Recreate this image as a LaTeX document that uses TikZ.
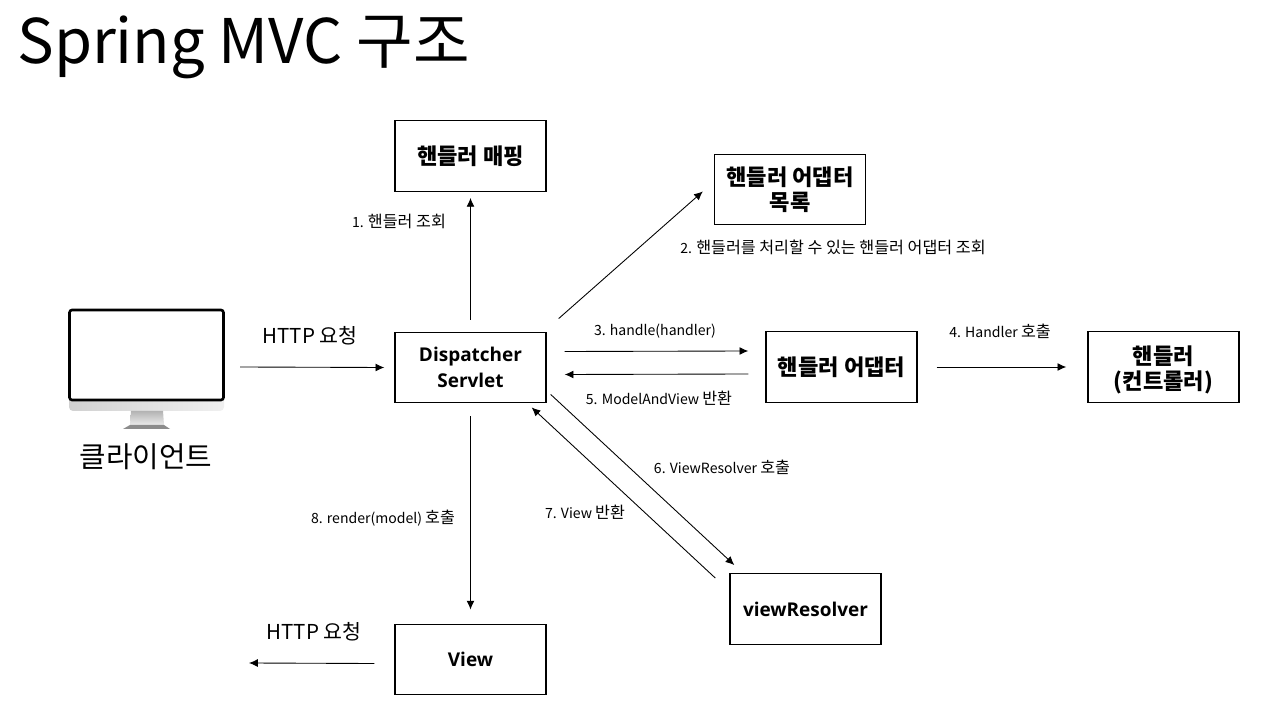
\documentclass[tikz,border=0pt]{standalone}
\usepackage{fontspec}
\setmainfont{Noto Sans CJK KR}
\newfontfamily\latbold{Open Sans}
\newcommand{\kr}[1]{{\fontsize{9.2}{10}\selectfont #1}}
\newcommand{\lb}[1]{{\latbold\bfseries\fontsize{10.8}{14.5}\selectfont #1}}
\usetikzlibrary{arrows.meta}
\tikzset{
 box/.style={draw,line width=0.8pt,minimum width=3.02cm,minimum height=1.41cm,inner sep=0pt,align=center,font=\fontsize{12.6}{14.5}\selectfont\bfseries},
 flow/.style={-{Latex[length=5pt,width=4.5pt]},line width=0.5pt},
 note/.style={inner sep=0pt,font=\fontsize{8}{10}\selectfont},
 biglabel/.style={inner sep=0pt,font=\fontsize{11.7}{13}\selectfont}
}
\begin{document}
\begin{tikzpicture}[x=0.02cm,y=-0.02cm]
 \useasboundingbox (0,0) rectangle (1280,715);
 \node[anchor=west,inner sep=0pt,font=\fontsize{35}{40}\selectfont] (title) at (17,47) {Spring MVC 구조};
 % monitor
 \shade[left color=black!18,right color=black!6] (69,396)--(224,396)--(224,407) arc (0:90:4)--(73,411) arc (90:180:4)--cycle;
 \shade[top color=black!30,bottom color=black!8] (131,411)--(163,411)--(164,425)--(130,425)--cycle;
 \fill[black!45] (130,425)--(164,425)--(170,429)--(123,429)--cycle;
 \draw[line width=1.5pt,rounded corners=1.5pt,fill=white] (69.5,310)--(223.5,310)--(223.5,400)--(69.5,400)--cycle;
 \node[inner sep=0pt,font=\fontsize{16.4}{18}\selectfont] (client) at (146,457) {클라이언트};
 \coordinate (screen) at (240,367);
 % boxes
 \node[box] (mapping) at (470.5,156) {핸들러 매핑};
 \node[box] (list) at (790,189.5) {핸들러 어댑터\\목록};
 \node[box] (ds) at (470.5,367.5) {\lb{Dispatcher}\\\lb{Servlet}};
 \node[box] (adapter) at (841.5,367) {핸들러 어댑터};
 \node[box] (handler) at (1163.5,367) {\rule{0pt}{14pt}핸들러\\(컨트롤러)};
 \node[box] (resolver) at (805.5,609) {\lb{viewResolver}};
 \node[box] (view) at (470.5,659.5) {\lb{View}};
 \coordinate (out) at (249,663);
 % arrows
 \draw[flow] (screen) -- ([shift={(-10,0)}]ds.west);
 \draw[flow] ([shift={(0,-12)}]ds.north) -- ([shift={(0,6)}]mapping.south);
 \draw[flow] ([shift={(12,-13)}]ds.north east) -- ([shift={(-11,-34)}]list.south west);
 \draw[flow] ([shift={(18,-16)}]ds.east) -- ([shift={(-17,-16)}]adapter.west);
 \draw[flow] ([shift={(-17,7)}]adapter.west) -- ([shift={(18,7)}]ds.east);
 \draw[flow] ([shift={(19,0)}]adapter.east) -- ([shift={(-21,0)}]handler.west);
 \draw[flow] ([shift={(4,-9)}]ds.south east) -- ([shift={(5,-8)}]resolver.north west);
 \draw[flow] ([shift={(-14,5)}]resolver.north west) -- ([shift={(-15,4)}]ds.south east);
 \draw[flow] ([shift={(0,13)}]ds.south) -- ([shift={(0,-14)}]view.north);
 \draw[flow] ([shift={(-20,4)}]view.west) -- (out);
 % labels
 \node[biglabel] (req1) at (310,336) {HTTP 요청};
 \node[biglabel] (req2) at (314,632) {HTTP 요청};
 \node[note] (n1) at (399,221) {1. \kr{핸들러 조회}};
 \node[note] (n2) at (833,247) {2. \kr{핸들러를 처리할 수 있는 핸들러 어댑터 조회}};
 \node[note] (n3) at (655,331) {3. handle(handler)};
 \node[note] (n4) at (1000,331) {4. Handler \kr{호출}};
 \node[note] (n5) at (659,398) {5. ModelAndView \kr{반환}};
 \node[note] (n6) at (722,467) {6. ViewResolver \kr{호출}};
 \node[note] (n7) at (585,512) {7. View \kr{반환}};
 \node[note] (n8) at (383,518) {8. render(model) \kr{호출}};
\end{tikzpicture}
\end{document}
